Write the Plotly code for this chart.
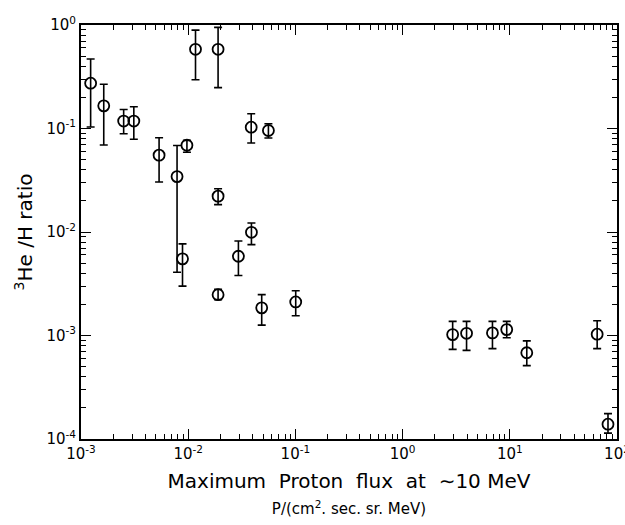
import plotly.graph_objects as go

# Data
flux = [0.00123, 0.00163, 0.0025, 0.00311, 0.00535, 0.00787, 0.00973, 0.0117, 0.019,
        0.019, 0.0387, 0.056, 0.00885, 0.019, 0.0294, 0.0389, 0.0485, 0.1007,
        2.93, 3.95, 6.89, 9.36, 14.4, 65.3, 82.4]
ratio = [0.274, 0.1655, 0.118, 0.118, 0.0553, 0.0343, 0.0689, 0.582, 0.582,
         0.0222, 0.103, 0.0957, 0.0055, 0.00248, 0.00583, 0.00993, 0.00185, 0.00211,
         0.00102, 0.00105, 0.00106, 0.00114, 0.000681, 0.00103, 0.000139]
ratio_hi = [0.469, 0.268, 0.1525, 0.162, 0.0815, 0.0684, 0.0768, 0.893, 0.949,
            0.0262, 0.139, 0.111, 0.00767, 0.00279, 0.00819, 0.0122, 0.00248, 0.00271,
            0.00137, 0.00137, 0.00137, 0.00137, 0.000887, 0.00139, 0.000176]
ratio_lo = [0.1035, 0.0693, 0.089, 0.0786, 0.0304, 0.00409, 0.059, 0.296, 0.248,
            0.0184, 0.0724, 0.0809, 0.0030, 0.00222, 0.0038, 0.00755, 0.00126, 0.00155,
            0.000734, 0.000718, 0.000746, 0.00095, 0.000512, 0.000746, 0.000114]

x_decades = [-3, -2, -1, 0, 1, 2]
y_decades = [-4, -3, -2, -1, 0]

err_plus = [h - v for h, v in zip(ratio_hi, ratio)]
err_minus = [v - l for v, l in zip(ratio, ratio_lo)]

fig = go.Figure()
fig.add_trace(go.Scatter(
    x=flux, y=ratio, mode="markers",
    marker=dict(symbol="circle-open", size=11, color="black", line=dict(width=1.8, color="black")),
    error_y=dict(type="data", symmetric=False, array=err_plus, arrayminus=err_minus,
                 color="black", thickness=1.6, width=4),
    showlegend=False,
))

font_family = "DejaVu Sans"

fig.update_xaxes(
    type="log", range=[-3, 2],
    tickvals=[10.0 ** d for d in x_decades],
    ticktext=[f"10<sup>{d}</sup>" for d in x_decades],
    ticks="inside", ticklen=10, tickwidth=1.3, tickcolor="black",
    showline=True, linecolor="black", linewidth=2, mirror="allticks",
    showgrid=False, zeroline=False,
    tickfont=dict(family=font_family, size=15, color="black"),
    ticklabeloverflow="allow", automargin=False,
    minor=dict(ticks="inside", ticklen=5, tickcolor="black", dtick="D1"),
    title=dict(
        text="Maximum  Proton  flux  at  \u223c10 MeV<br>"
             "<span style='font-size:15px'>P/(cm<sup>2</sup>. sec. sr. MeV)</span>",
        font=dict(family=font_family, size=20, color="black"),
        standoff=12,
    ),
)
fig.update_yaxes(
    type="log", range=[-4, 0],
    tickvals=[10.0 ** d for d in y_decades],
    ticktext=[f"10<sup>{d}</sup>" for d in y_decades],
    ticks="inside", ticklen=10, tickwidth=1.3, tickcolor="black",
    showline=True, linecolor="black", linewidth=2, mirror="allticks",
    showgrid=False, zeroline=False,
    tickfont=dict(family=font_family, size=15, color="black"),
    automargin=False,
    minor=dict(ticks="inside", ticklen=5, tickcolor="black", dtick="D1"),
    title=dict(
        text="<sup>3</sup>He /H ratio",
        font=dict(family=font_family, size=20, color="black"),
        standoff=8,
    ),
)

fig.update_layout(
    width=625, height=525,
    margin=dict(l=81, r=8, t=25, b=86),
    plot_bgcolor="white", paper_bgcolor="white",
)

fig.write_html("out.html")
